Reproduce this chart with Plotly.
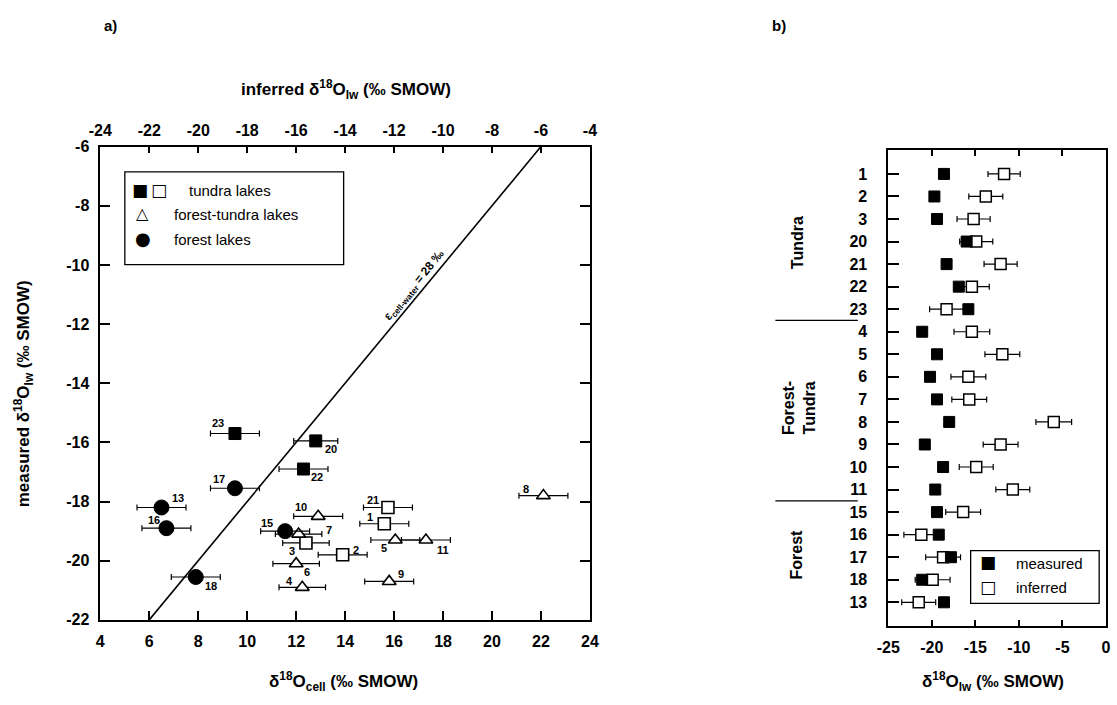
import plotly.graph_objects as go

# ---------------- Panel a data (cellulose vs measured lake water) ----------------
tundra_filled_lake = ["23", "20", "22"]
tundra_filled_cell = [9.5, 12.8, 12.3]
tundra_filled_meas = [-15.7, -15.95, -16.9]
tundra_filled_err = [1.0, 0.9, 1.0]

tundra_open_lake = ["21", "1", "3", "2"]
tundra_open_cell = [15.75, 15.6, 12.4, 13.9]
tundra_open_meas = [-18.2, -18.75, -19.4, -19.8]
tundra_open_err = [1.0, 1.0, 0.95, 1.0]

ftundra_lake = ["10", "7", "6", "4", "5", "9", "11", "8"]
ftundra_cell = [12.9, 12.1, 12.0, 12.25, 16.05, 15.8, 17.3, 22.1]
ftundra_meas = [-18.5, -19.1, -20.1, -20.9, -19.3, -20.7, -19.3, -17.8]
ftundra_err = [1.0, 0.95, 0.95, 0.95, 1.0, 1.0, 1.0, 1.0]

forest_lake = ["13", "16", "17", "18", "15"]
forest_cell = [6.5, 6.7, 9.5, 7.9, 11.55]
forest_meas = [-18.2, -18.9, -17.55, -20.55, -19.0]
forest_err = [1.0, 1.0, 1.0, 1.0, 1.0]

# 1:1 line measured = inferred (epsilon cell-water = 28 permil)
eps_line_inferred = [-22, -6]

x_ticks_a = list(range(4, 25, 2))
x2_ticks_a = list(range(-24, -3, 2))
y_ticks_a = list(range(-22, -5, 2))

# ---------------- Panel b data ----------------
lakes_b = ["1", "2", "3", "20", "21", "22", "23", "4", "5", "6", "7", "8", "9",
           "10", "11", "15", "16", "17", "18", "13"]
measured_b = [-18.6, -19.7, -19.4, -16.0, -18.3, -16.9, -15.8, -21.1, -19.4, -20.2,
              -19.4, -18.0, -20.8, -18.7, -19.6, -19.4, -19.2, -17.8, -21.1, -18.6]
inferred_b = [-11.7, -13.8, -15.2, -14.9, -12.1, -15.4, -18.3, -15.4, -11.9, -15.8,
              -15.7, -6.0, -12.1, -14.9, -10.7, -16.4, -21.2, -18.7, -19.9, -21.5]
inferred_err_b = [1.85, 1.95, 1.9, 1.9, 1.9, 2.0, 1.95, 2.05, 2.0, 2.0,
                  2.0, 2.05, 2.0, 1.95, 1.95, 2.0, 2.0, 2.0, 2.0, 1.95]
x_ticks_b = [-25, -20, -15, -10, -5, 0]

# label offsets (pixels) for point numbers in panel a
label_offsets = {
    "23": (-17, 11), "20": (15, -8), "22": (14, -8), "17": (-16, 9), "13": (16, 9),
    "16": (-12, 8), "15": (-18, 8), "18": (15, -9), "10": (-17, 9), "7": (30, 4),
    "3": (-14, -8), "6": (11, -8), "2": (13, 5), "4": (-13, 6), "21": (-15, 7),
    "1": (-14, 7), "5": (-11, -8), "9": (12, 7), "11": (17, -10), "8": (-17, 7),
}

W, H = 1117, 705


def px(x):
    return x / W


def py(y):
    return 1 - y / H


def labels(vals):
    return [str(v) for v in vals]  # plain hyphen-minus as in the reference


FONT = "Liberation Sans, Arial, Helvetica, sans-serif"
SYM = "DejaVu Sans, sans-serif"
BLACK = "black"

fig = go.Figure()

# epsilon line drawn on the inferred (top) axis: measured = inferred
fig.add_trace(go.Scatter(x=eps_line_inferred, y=eps_line_inferred, xaxis="x2", yaxis="y",
                         mode="lines", line=dict(color=BLACK, width=1.6),
                         showlegend=False, hoverinfo="skip"))


def err(arr):
    return dict(type="data", array=arr, symmetric=True, color=BLACK, thickness=1.2, width=3)


fig.add_trace(go.Scatter(x=tundra_filled_cell, y=tundra_filled_meas, mode="markers",
                         error_x=err(tundra_filled_err),
                         marker=dict(symbol="square", size=12, color=BLACK,
                                     line=dict(color=BLACK, width=1)),
                         showlegend=False))
fig.add_trace(go.Scatter(x=tundra_open_cell, y=tundra_open_meas, mode="markers",
                         error_x=err(tundra_open_err),
                         marker=dict(symbol="square", size=12, color="white",
                                     line=dict(color=BLACK, width=1.6)),
                         showlegend=False))
fig.add_trace(go.Scatter(x=ftundra_cell, y=ftundra_meas, mode="markers",
                         error_x=err(ftundra_err),
                         marker=dict(symbol="triangle-up", size=12, color="white",
                                     line=dict(color=BLACK, width=1.6)),
                         showlegend=False))
fig.add_trace(go.Scatter(x=forest_cell, y=forest_meas, mode="markers",
                         error_x=err(forest_err),
                         marker=dict(symbol="circle", size=15, color=BLACK,
                                     line=dict(color=BLACK, width=1)),
                         showlegend=False))

# Panel b
fig.add_trace(go.Scatter(x=inferred_b, y=lakes_b, xaxis="x3", yaxis="y3", mode="markers",
                         error_x=err(inferred_err_b),
                         marker=dict(symbol="square", size=11, color="white",
                                     line=dict(color=BLACK, width=1.5)),
                         showlegend=False))
fig.add_trace(go.Scatter(x=measured_b, y=lakes_b, xaxis="x3", yaxis="y3", mode="markers",
                         marker=dict(symbol="square", size=11, color=BLACK,
                                     line=dict(color=BLACK, width=1)),
                         showlegend=False))

annotations = []

# point labels
for lakes, xs, ys in [(tundra_filled_lake, tundra_filled_cell, tundra_filled_meas),
                      (tundra_open_lake, tundra_open_cell, tundra_open_meas),
                      (ftundra_lake, ftundra_cell, ftundra_meas),
                      (forest_lake, forest_cell, forest_meas)]:
    for lk, xv, yv in zip(lakes, xs, ys):
        dx, dy = label_offsets[lk]
        annotations.append(dict(x=xv, y=yv, xref="x", yref="y", text=lk, showarrow=False,
                                xshift=dx, yshift=dy,
                                font=dict(family=FONT, size=11, color=BLACK, weight="bold")))

# epsilon label along the line
annotations.append(dict(x=-10.9, y=-10.9, xref="x2", yref="y",
                        text="ε<sub>cell-water</sub> = 28 ‰", showarrow=False,
                        textangle=-50.5, xshift=-7, yshift=6,
                        font=dict(family=FONT, size=12, color=BLACK, weight="bold")))


def ann_paper(x, y, text, size, angle=0, weight="bold", xanchor="center", family=FONT):
    annotations.append(dict(x=px(x), y=py(y), xref="paper", yref="paper", text=text,
                            showarrow=False, textangle=angle, xanchor=xanchor, yanchor="middle",
                            font=dict(family=family, size=size, color=BLACK, weight=weight)))


ann_paper(100, 18, "a)", 15)
ann_paper(782, 18, "b)", 15)
ann_paper(340, 84, "inferred δ<sup>18</sup>O<sub>lw</sub> (‰ SMOW)", 17)
ann_paper(338, 690, "δ<sup>18</sup>O<sub>cell</sub> (‰ SMOW)", 17)
ann_paper(12, 395, "measured δ<sup>18</sup>O<sub>lw</sub> (‰ SMOW)", 17, angle=-90)
ann_paper(1000, 690, "δ<sup>18</sup>O<sub>lw</sub> (‰ SMOW)", 17)

# panel b group labels
ann_paper(800, 240, "Tundra", 16, angle=-90)
ann_paper(802, 410, "Forest-<br>Tundra", 16, angle=-90)
ann_paper(800, 560, "Forest", 16, angle=-90)

# panel a legend
ann_paper(120, 186, "■", 17, weight="normal", xanchor="left", family=SYM)
ann_paper(140, 186, "□", 17, weight="normal", xanchor="left", family=SYM)
ann_paper(178, 187, "tundra lakes", 15, weight="normal", xanchor="left")
ann_paper(124, 211, "△", 16, weight="normal", xanchor="left", family=SYM)
ann_paper(163, 212, "forest-tundra lakes", 15, weight="normal", xanchor="left")
ann_paper(123, 236, "●", 18, weight="normal", xanchor="left", family=SYM)
ann_paper(163, 237, "forest lakes", 15, weight="normal", xanchor="left")

# panel b legend
ann_paper(985, 568, "■", 17, weight="normal", xanchor="left", family=SYM)
ann_paper(985, 593, "□", 17, weight="normal", xanchor="left", family=SYM)
ann_paper(1021, 569, "measured", 15, weight="normal", xanchor="left")
ann_paper(1021, 594, "inferred", 15, weight="normal", xanchor="left")

shapes = [
    dict(type="rect", xref="paper", yref="paper", x0=px(115), x1=px(338), y0=py(263), y1=py(168),
         line=dict(color=BLACK, width=1.3), fillcolor="white", layer="below"),
    dict(type="rect", xref="paper", yref="paper", x0=px(977), x1=px(1108), y0=py(610), y1=py(556),
         line=dict(color=BLACK, width=1.3), fillcolor="rgba(0,0,0,0)"),
    dict(type="line", xref="paper", yref="y3", x0=px(778), x1=px(862), y0=6.5, y1=6.5,
         line=dict(color=BLACK, width=1.3)),
    dict(type="line", xref="paper", yref="y3", x0=px(778), x1=px(862), y0=14.5, y1=14.5,
         line=dict(color=BLACK, width=1.3)),
]

axis_common = dict(showgrid=False, zeroline=False, showline=True, linecolor=BLACK, linewidth=1.5,
                   ticks="inside", tickcolor=BLACK, tickwidth=1.5,
                   tickfont=dict(family=FONT, size=16, color=BLACK, weight="bold"))

fig.update_layout(
    width=W, height=H, margin=dict(l=0, r=0, t=0, b=0),
    paper_bgcolor="white", plot_bgcolor="white", showlegend=False,
    xaxis=dict(domain=[px(90), px(589)], range=[4, 24], tickvals=x_ticks_a,
               ticktext=labels(x_ticks_a), anchor="y",
               ticklen=9, ticklabelstandoff=6, **axis_common),
    xaxis2=dict(domain=[px(90), px(589)], range=[-24, -4], tickvals=x2_ticks_a,
                ticktext=labels(x2_ticks_a), anchor="y",
                overlaying="x", side="top", ticklen=7, ticklabelstandoff=2, **axis_common),
    yaxis=dict(domain=[py(627), py(142)], range=[-22, -6], tickvals=y_ticks_a,
               ticktext=labels(y_ticks_a), anchor="x",
               mirror="ticks", ticklen=10, ticklabelstandoff=6, **axis_common),
    xaxis3=dict(domain=[px(893), px(1115)], range=[-25, 0], tickvals=x_ticks_b,
                ticktext=labels(x_ticks_b), anchor="y3",
                mirror="ticks", ticklen=6, ticklabelstandoff=6, **axis_common),
    yaxis3=dict(domain=[py(633), py(146)], type="category", categoryarray=lakes_b,
                categoryorder="array", range=[20.04, -1.04], anchor="x3",
                mirror=True, ticklen=11, ticklabelstandoff=16, **axis_common),
    annotations=annotations, shapes=shapes,
)

fig.write_html("out.html")
